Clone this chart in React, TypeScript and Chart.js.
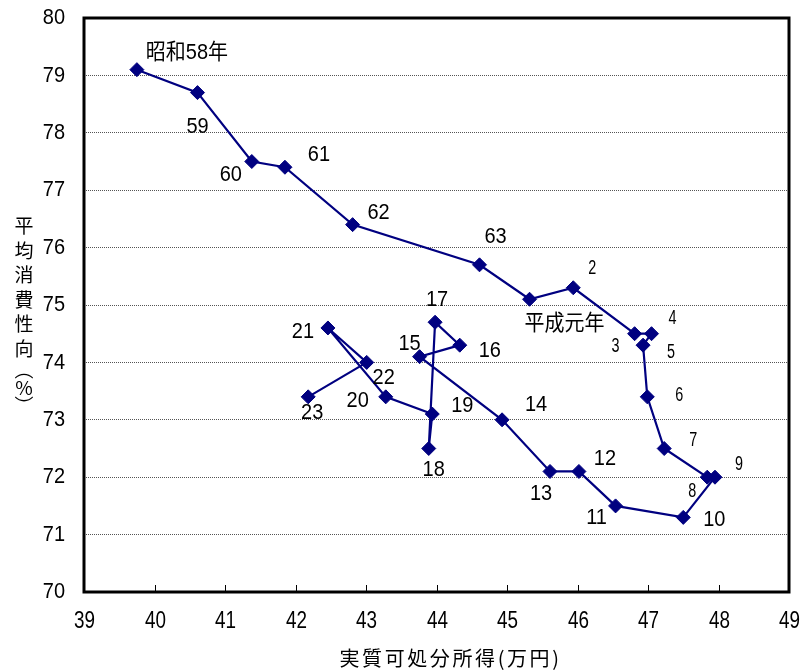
import { useEffect, useRef } from "react";
import { Chart, registerables } from "chart.js";

Chart.register(...registerables);

// Year of each observation (昭和58年 … 平成23年)
const yearLabels = [
  "昭和58年", "59", "60", "61", "62", "63", "平成元年",
  "2", "3", "4", "5", "6", "7", "8", "9", "10", "11", "12", "13", "14",
  "15", "16", "17", "18", "19", "20", "21", "22", "23",
];

// 実質可処分所得 (万円)
const realDisposableIncome = [
  39.75, 40.61, 41.38, 41.85, 42.81, 44.61, 45.32,
  45.94, 46.81, 47.05, 46.93, 46.99, 47.23, 47.84, 47.95, 47.5, 46.54, 46.02, 45.61, 44.93,
  43.76, 44.33, 43.98, 43.89, 43.94, 43.28, 42.46, 43.01, 42.18,
];

// 平均消費性向 (%)
const propensityToConsume = [
  79.1, 78.7, 77.5, 77.4, 76.4, 75.7, 75.1,
  75.3, 74.5, 74.5, 74.3, 73.4, 72.5, 72.0, 72.0, 71.3, 71.5, 72.1, 72.1, 73.0,
  74.1, 74.3, 74.7, 72.5, 73.1, 73.4, 74.6, 74.0, 73.4,
];

const X_TITLE = "実質可処分所得(万円)";
const Y_TITLE = "平均消費性向（%）";

// Where each year label sits relative to its marker (px)
const labelOffsets: [number, number][] = [
  [50, -17], [0, 34], [-21, 14], [34, -12], [26, -12], [16, -28], [35, 25],
  [19, -20], [-19, 13], [21, -15], [28, 7], [32, -2], [29, -8], [-15, 14], [24, -13],
  [31, 3], [-19, 12], [26, -12], [-9, 23], [34, -15],
  [-10, -13], [30, 6], [2, -22], [5, 22], [30, -8], [-28, 4], [-25, 4], [17, 16], [4, 16],
];

const NAVY = "#000080";
const SANS = '"Liberation Sans", Arial, "Noto Sans CJK JP", sans-serif';
const CJK = '"Noto Sans CJK JP", sans-serif';

// fillText with independent horizontal / vertical scaling (for condensed digits)
function drawText(
  ctx: CanvasRenderingContext2D,
  text: string,
  x: number,
  y: number,
  font: string,
  sx: number,
  sy: number,
  align: CanvasTextAlign = "center"
) {
  ctx.save();
  ctx.translate(x, y);
  ctx.scale(sx, sy);
  ctx.font = font;
  ctx.textAlign = align;
  ctx.textBaseline = "middle";
  ctx.fillText(text, 0, 0);
  ctx.restore();
}

const decorations = {
  id: "decorations",
  beforeDraw(chart: any) {
    const ctx = chart.ctx;
    ctx.save();
    ctx.fillStyle = "#fff";
    ctx.fillRect(0, 0, chart.width, chart.height);
    ctx.restore();
  },
  afterDatasetsDraw(chart: any) {
    const { ctx, chartArea: a, scales } = chart;
    ctx.save();

    // plot frame
    ctx.strokeStyle = "#000";
    ctx.lineWidth = 3;
    ctx.strokeRect(a.left, a.top, a.right - a.left, a.bottom - a.top);

    // inward tick marks and condensed tick labels on the x axis
    ctx.lineWidth = 1;
    ctx.fillStyle = "#000";
    scales.x.ticks.forEach((t: any) => {
      const px = Math.round(scales.x.getPixelForValue(t.value)) + 0.5;
      ctx.beginPath();
      ctx.moveTo(px, a.bottom);
      ctx.lineTo(px, a.bottom - 7);
      ctx.stroke();
      drawText(ctx, String(t.value), px, a.bottom + 29.5, `23px ${SANS}`, 0.82, 1);
    });

    // y tick labels
    scales.y.ticks.forEach((t: any) => {
      const py = scales.y.getPixelForValue(t.value);
      drawText(ctx, String(t.value), a.left - 19, py, `20px ${SANS}`, 1, 1.12, "right");
    });

    // year labels next to the markers
    const meta = chart.getDatasetMeta(0);
    meta.data.forEach((pt: any, i: number) => {
      const text = yearLabels[i];
      const [dx, dy] = labelOffsets[i];
      if (text.length === 1) {
        drawText(ctx, text, pt.x + dx, pt.y + dy, `20px ${SANS}`, 0.72, 1.05);
      } else {
        drawText(ctx, text, pt.x + dx, pt.y + dy, `20px ${SANS}`, 1, 1.08);
      }
    });

    // vertical y-axis title, one character per line
    ctx.textAlign = "center";
    ctx.textBaseline = "middle";
    ctx.font = `19px ${CJK}`;
    const chars = Array.from(Y_TITLE).map((c) =>
      c === "（" ? "︵" : c === "）" ? "︶" : c
    );
    const adv = (c: string) => (/[\u3000-\u9fff]/.test(c) ? 24.5 : 18);
    let y = 226;
    chars.forEach((c, i) => {
      if (i > 0) y += (adv(chars[i - 1]) + adv(c)) / 2;
      ctx.fillText(c, 24, y);
    });

    // x-axis title
    ctx.font = `20px ${CJK}`;
    (ctx as any).letterSpacing = "2.6px";
    ctx.fillText(X_TITLE, (a.left + a.right) / 2 + 14, 658);
    (ctx as any).letterSpacing = "0px";

    ctx.restore();
  },
};

export default function App() {
  const canvasRef = useRef<HTMLCanvasElement | null>(null);

  useEffect(() => {
    if (!canvasRef.current) return;
    const points = realDisposableIncome.map((x, i) => ({ x, y: propensityToConsume[i] }));
    const chart = new Chart(canvasRef.current, {
      type: "scatter",
      data: {
        datasets: [
          {
            data: points,
            showLine: true,
            borderColor: NAVY,
            borderWidth: 2.2,
            backgroundColor: NAVY,
            pointStyle: "rectRot",
            pointRadius: 7,
            pointBorderWidth: 1,
            pointBorderColor: NAVY,
            pointBackgroundColor: NAVY,
            tension: 0,
          },
        ],
      },
      options: {
        animation: false,
        responsive: true,
        maintainAspectRatio: false,
        events: [],
        layout: { padding: { top: 18, right: 12, left: 0, bottom: 0 } },
        plugins: {
          legend: { display: false },
          tooltip: { enabled: false },
        },
        scales: {
          x: {
            type: "linear",
            min: 39,
            max: 49,
            ticks: {
              stepSize: 1,
              color: "rgba(0,0,0,0)",
              padding: 16,
              maxRotation: 0,
              font: { family: SANS, size: 20 },
            },
            grid: { display: false, drawTicks: false },
            border: { display: false },
            afterFit: (s: any) => {
              s.height = 79;
              s.paddingLeft = 0;
              s.paddingRight = 0;
            },
          },
          y: {
            type: "linear",
            min: 70,
            max: 80,
            ticks: {
              stepSize: 1,
              color: "rgba(0,0,0,0)",
              padding: 19,
              font: { family: SANS, size: 20 },
            },
            grid: { color: "#555", lineWidth: 1, drawTicks: false },
            border: { display: false, dash: [1, 1] },
            afterFit: (s: any) => {
              s.width = 84;
              s.paddingTop = 0;
              s.paddingBottom = 0;
            },
          },
        },
      },
      plugins: [decorations],
    });
    return () => chart.destroy();
  }, []);

  return (
    <div
      style={{
        position: "fixed",
        left: 0,
        top: 0,
        width: 801,
        height: 671,
        background: "#fff",
      }}
    >
      <canvas ref={canvasRef} />
    </div>
  );
}
